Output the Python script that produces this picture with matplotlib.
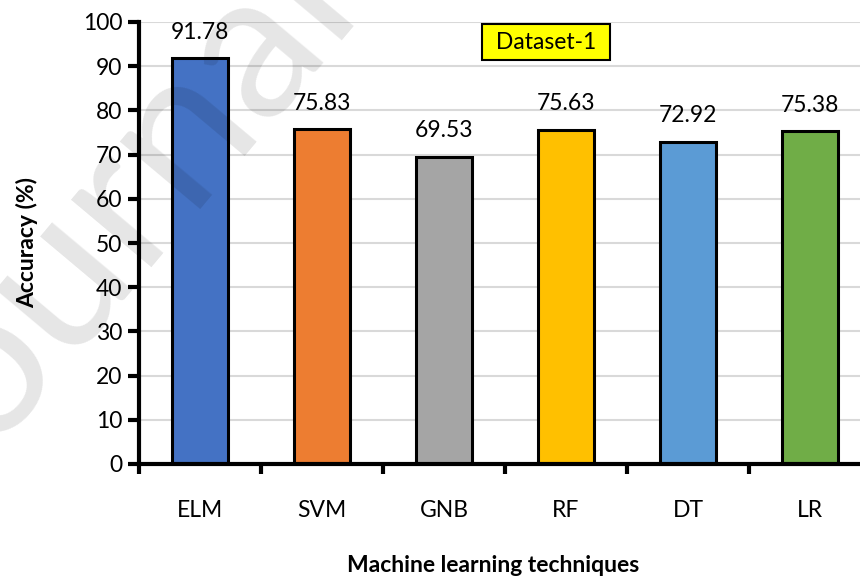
import numpy as np
import matplotlib.pyplot as plt

plt.rcParams['font.family'] = ['Lato', 'DejaVu Sans']

# data
techniques = ['ELM', 'SVM', 'GNB', 'RF', 'DT', 'LR']
accuracy = [91.78, 75.83, 69.53, 75.63, 72.92, 75.38]
colors = ['#4472C4', '#ED7D31', '#A5A5A5', '#FFC000', '#5B9BD5', '#70AD47']

fig = plt.figure(figsize=(8.6, 5.81), dpi=100)
# axes runs past the right edge, like the cropped original
ax = fig.add_axes([139 / 860, 1 - 464 / 581, 732 / 860, 442 / 581])

x = np.arange(len(techniques))
ax.bar(x, accuracy, width=0.46, color=colors, edgecolor='black', linewidth=2.2, zorder=3)

for xi, v in zip(x, accuracy):
    ax.annotate(f'{v:.2f}', (xi, v), xytext=(0, 11), textcoords='offset points',
                ha='center', va='bottom', fontsize=16.5)

ax.set_xlim(-0.5, len(techniques) - 0.5)
ax.set_ylim(0, 100)
ax.set_yticks(np.arange(0, 101, 10))
ax.set_xticks(x)
ax.set_xticklabels(techniques, fontsize=16.5)
ax.set_xticks(np.arange(-0.5, len(techniques), 1), minor=True)
ax.tick_params(axis='x', which='major', length=0, pad=26)
ax.tick_params(axis='x', which='minor', length=7, width=3, direction='out')
ax.tick_params(axis='y', labelsize=16.5, length=8, width=3, pad=4)

ax.yaxis.grid(True, color='#d9d9d9', linewidth=1.5, zorder=0)
ax.set_axisbelow(True)
for s in ['top', 'right']:
    ax.spines[s].set_visible(False)
for s in ['left', 'bottom']:
    ax.spines[s].set_linewidth(3)
    ax.spines[s].set_zorder(4)

ax.set_ylabel('Accuracy (%)', fontsize=16.5, fontweight='bold')
ax.yaxis.set_label_coords(-0.138, 0.5)
fig.text(493 / 860, 1 - 565 / 581, 'Machine learning techniques', ha='center', va='center',
         fontsize=16.5, fontweight='bold')

ax.text(2.836, 95.4, ' Dataset-1 ', ha='center', va='center', fontsize=16.5,
        bbox=dict(boxstyle='square,pad=0.33', facecolor='#FFFF00', edgecolor='black', linewidth=1.5))

# faint watermark, partly outside the figure as in the original
fig.text(0.122, 0.604, 'Journal', rotation=50, fontsize=150, color='black', alpha=0.1,
         ha='center', va='center', zorder=10)

fig.savefig('out.png', dpi=100)
